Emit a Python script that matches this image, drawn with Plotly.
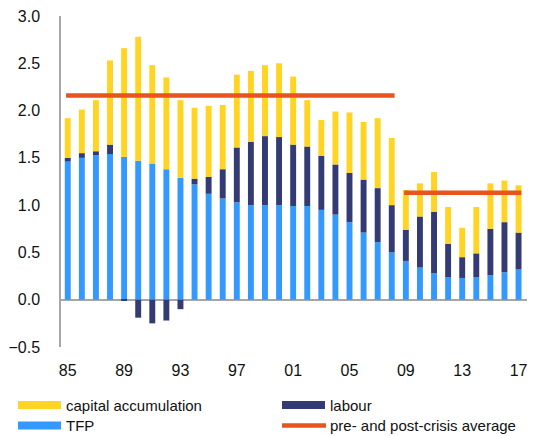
import plotly.graph_objects as go

# Growth decomposition, 1985-2017 (percentage points)
years = list(range(1985, 2018))

tfp = [1.46, 1.50, 1.53, 1.54, 1.51, 1.47, 1.44, 1.38, 1.29, 1.22, 1.12,
       1.07, 1.03, 1.00, 1.00, 1.00, 0.99, 0.99, 0.95, 0.90, 0.82, 0.71,
       0.61, 0.50, 0.41, 0.34, 0.28, 0.24, 0.23, 0.24, 0.26, 0.29, 0.32]

labour = [0.04, 0.05, 0.04, 0.10, -0.01, -0.19, -0.25, -0.22, -0.10, 0.06, 0.18,
          0.31, 0.58, 0.67, 0.73, 0.72, 0.65, 0.63, 0.57, 0.53, 0.52, 0.56,
          0.57, 0.50, 0.33, 0.54, 0.65, 0.35, 0.22, 0.25, 0.49, 0.53, 0.39]

capital = [0.42, 0.46, 0.54, 0.89, 1.15, 1.31, 1.04, 0.97, 0.82, 0.75, 0.75,
           0.68, 0.77, 0.75, 0.75, 0.78, 0.72, 0.49, 0.38, 0.56, 0.64, 0.61,
           0.74, 0.71, 0.42, 0.35, 0.42, 0.39, 0.31, 0.49, 0.48, 0.44, 0.50]

# pre- and post-crisis averages
pre_period = (1985, 2008)
post_period = (2009, 2017)
pre_avg = 2.16
post_avg = 1.13

tick_years = list(range(1985, 2018, 4))
tick_text = [str(y)[2:] for y in tick_years]

TFP_COLOR = "#3399FF"
LABOUR_COLOR = "#343B74"
CAPITAL_COLOR = "#FFD423"
AVG_COLOR = "#E8541C"
AXIS_GREY = "#A6A6A6"
FONT = "Liberation Sans, Arial, sans-serif"

# the page body keeps its default 8px margin, so the figure starts at (8, 8);
# every position below is in figure pixels
W, H = 532, 428
L, R, T, B = 53, 13, 8, 89
PW, PH = W - L - R, H - T - B


def px(x, y):
    """Figure pixel position -> paper coordinates (for the hand-drawn legend)."""
    return (x - L) / PW, (H - B - y) / PH


fig = go.Figure()

fig.add_trace(go.Bar(x=years, y=tfp, name="TFP", marker_color=TFP_COLOR,
                     marker_line_width=0, width=0.42))
fig.add_trace(go.Bar(x=years, y=labour, name="labour", marker_color=LABOUR_COLOR,
                     marker_line_width=0, width=0.42))
fig.add_trace(go.Bar(x=years, y=capital, name="capital accumulation",
                     marker_color=CAPITAL_COLOR, marker_line_width=0, width=0.42))

for (start, end), avg in [(pre_period, pre_avg), (post_period, post_avg)]:
    fig.add_trace(go.Scatter(
        x=[start - 0.12, end + 0.2], y=[avg, avg], mode="lines",
        line=dict(color=AVG_COLOR, width=4.5),
        name="pre- and post-crisis average", hoverinfo="skip",
    ))

# legend drawn by hand: wide swatches in two columns
legend_items = [
    (10, 397, "rect", CAPITAL_COLOR, "capital accumulation"),
    (274, 397, "rect", LABOUR_COLOR, "labour"),
    (10, 417.5, "rect", TFP_COLOR, "TFP"),
    (274, 417.5, "line", AVG_COLOR, "pre- and post-crisis average"),
]
for x0, yc, kind, color, label in legend_items:
    if kind == "rect":
        a = px(x0, yc - 4)
        b = px(x0 + 43, yc + 4)
        fig.add_shape(type="rect", xref="paper", yref="paper",
                      x0=a[0], y0=b[1], x1=b[0], y1=a[1],
                      fillcolor=color, line_width=0)
    else:
        a = px(x0, yc)
        b = px(x0 + 44, yc)
        fig.add_shape(type="line", xref="paper", yref="paper",
                      x0=a[0], y0=a[1], x1=b[0], y1=b[1],
                      line=dict(color=color, width=4.5))
    t = px(x0 + 46, yc)
    fig.add_annotation(x=t[0], y=t[1], xref="paper", yref="paper",
                       text=label, showarrow=False, xanchor="left",
                       yanchor="middle", font=dict(size=15, color="#111111"))

fig.update_layout(
    width=W, height=H,
    margin=dict(l=L, r=R, t=T, b=B, pad=0, autoexpand=False),
    barmode="relative",
    showlegend=False,
    plot_bgcolor="white",
    paper_bgcolor="white",
    font=dict(family=FONT, size=16, color="#111111"),
    xaxis=dict(
        range=[1984.52, 2017.6],
        tickvals=tick_years, ticktext=tick_text,
        showgrid=False, showline=False, zeroline=False,
        ticks="", ticklabelstandoff=12, automargin=False,
        tickfont=dict(size=16),
    ),
    yaxis=dict(
        range=[-0.5, 3.0],
        tickvals=[-0.5, 0, 0.5, 1.0, 1.5, 2.0, 2.5, 3.0],
        tickformat=".1f",
        showgrid=False,
        showline=True, linecolor=AXIS_GREY, linewidth=1.5,
        zeroline=True, zerolinecolor=AXIS_GREY, zerolinewidth=1.5,
        ticks="", ticklabelstandoff=16, ticklabeloverflow="allow",
        automargin=False,
        tickfont=dict(size=16),
    ),
)

fig.write_html("out.html")
